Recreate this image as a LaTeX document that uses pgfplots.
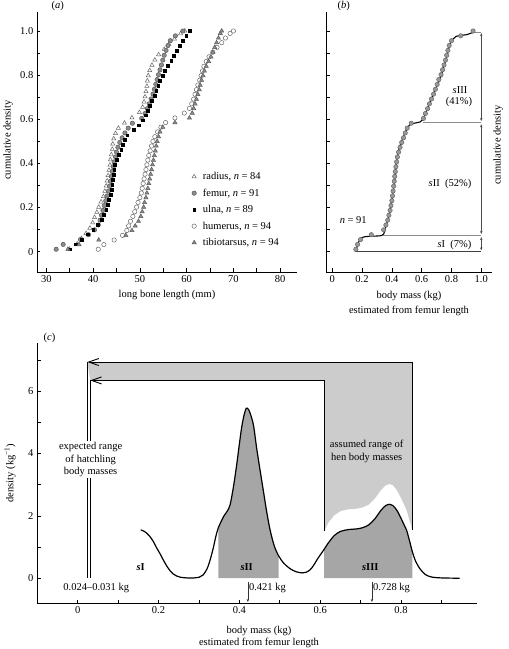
\documentclass[border=0pt]{standalone}
\usepackage{fontspec}
\setmainfont{Liberation Serif}
\usepackage{pgfplots}
\pgfplotsset{compat=1.18}
\usetikzlibrary{arrows.meta}
\pgfplotsset{
 myaxis/.style={
  scale only axis,
  axis x line*=bottom, axis y line*=left,
  x axis line style={-}, y axis line style={-},
  axis line style={line width=0.8pt},
  tick align=inside,
  major tick length=3.5pt, minor tick length=3.5pt,
  every tick/.style={black, line width=0.6pt},
  tick label style={font=\fontsize{10.5}{12}\selectfont},
  /pgf/number format/assume math mode=true,
  clip=false,
 },
 rad/.style={only marks, mark=triangle*, mark size=2.4pt, mark options={fill=white, draw=black!60, line width=0.5pt}},
 fem/.style={only marks, mark=*, mark size=2.2pt, mark options={fill=black!45, draw=black!65, line width=0.5pt}},
 uln/.style={only marks, mark=square*, mark size=1.4pt, mark options={fill=black, draw=black}},
 hum/.style={only marks, mark=*, mark size=2.2pt, mark options={fill=white, draw=black!60, line width=0.5pt}},
 tib/.style={only marks, mark=triangle*, mark size=2.4pt, mark options={fill=black!45, draw=black!65, line width=0.5pt}},
}
\begin{document}
\fontsize{10.5}{12.6}\selectfont
\begin{tikzpicture}[x=1pt,y=1pt]
\useasboundingbox (0,0) rectangle (509,649);
% ---------------- (a)
\begin{axis}[myaxis, at={(37pt,377pt)}, anchor=south west, width=260pt, height=260pt,
 xmin=28, xmax=83.6, ymin=-0.092, ymax=1.086,
 xtick={30,40,50,60,70,80}, minor xtick={35,45,55,65,75},
 ytick={0,0.2,0.4,0.6,0.8,1.0}, yticklabels={0,0.2,0.4,0.6,0.8,1.0},
 minor ytick={0.1,0.3,0.5,0.7,0.9},
 legend cell align=left,
 legend style={draw=none, fill=none, inner sep=0pt, at={(axis cs:61.1,0.37)}, anchor=north west, row sep=3.6pt, font=\fontsize{10.5}{12.6}\selectfont,
   /tikz/every odd column/.append style={column sep=4.5pt}}]
\addplot[rad] coordinates {(34.9,0.012)(36.6,0.036)(37.5,0.060)(38.5,0.083)(39.3,0.107)(39.9,0.131)(40.3,0.155)(40.8,0.179)(41.2,0.202)(41.7,0.226)(42.2,0.250)(42.5,0.274)(42.8,0.298)(43.0,0.321)(43.2,0.345)(43.4,0.369)(43.6,0.393)(43.7,0.417)(43.9,0.440)(44.1,0.464)(44.2,0.488)(44.4,0.512)(44.8,0.536)(45.4,0.560)(46.7,0.583)(48.3,0.607)(49.9,0.631)(50.6,0.655)(50.9,0.679)(51.1,0.702)(51.3,0.726)(51.5,0.750)(51.6,0.774)(51.8,0.798)(52.1,0.821)(52.6,0.845)(53.2,0.869)(54.0,0.893)(55.2,0.917)(56.2,0.940)(57.4,0.964)(58.7,0.988)(59.6,1.000)};
\addlegendentry{radius, \textit{n} = 84}
\addplot[fem] coordinates {(32.1,0.011)(33.6,0.033)(37.3,0.055)(39.0,0.077)(40.3,0.099)(41.1,0.121)(41.5,0.143)(41.8,0.165)(42.1,0.187)(42.4,0.209)(42.7,0.231)(43.0,0.253)(43.3,0.275)(43.5,0.297)(43.7,0.319)(43.9,0.341)(44.1,0.363)(44.3,0.385)(44.5,0.407)(44.8,0.429)(45.0,0.451)(45.3,0.473)(45.7,0.495)(46.2,0.516)(46.8,0.538)(47.5,0.560)(48.4,0.582)(50.4,0.604)(51.1,0.626)(51.6,0.648)(52.0,0.670)(52.4,0.692)(52.8,0.714)(53.1,0.736)(53.4,0.758)(53.7,0.780)(54.0,0.802)(54.3,0.824)(54.6,0.846)(54.9,0.868)(55.2,0.890)(55.6,0.912)(56.0,0.934)(56.5,0.956)(57.6,0.978)(59.2,1.000)};
\addlegendentry{femur, \textit{n} = 91}
\addplot[uln] coordinates {(35.0,0.011)(36.2,0.034)(37.6,0.056)(38.9,0.079)(40.0,0.101)(41.0,0.124)(41.9,0.146)(42.3,0.169)(42.8,0.191)(43.1,0.213)(43.4,0.236)(43.7,0.258)(43.9,0.281)(44.1,0.303)(44.2,0.326)(44.4,0.348)(44.5,0.371)(44.7,0.393)(45.0,0.416)(45.5,0.438)(46.0,0.461)(46.4,0.483)(46.8,0.506)(47.3,0.528)(48.6,0.551)(49.8,0.573)(50.6,0.596)(51.2,0.618)(51.7,0.640)(52.1,0.663)(52.6,0.685)(53.1,0.708)(53.5,0.730)(53.9,0.753)(54.3,0.775)(54.8,0.798)(55.3,0.820)(56.0,0.843)(56.7,0.865)(57.3,0.888)(57.9,0.910)(58.5,0.933)(59.1,0.955)(59.9,0.978)(60.6,1.000)};
\addlegendentry{ulna, \textit{n} = 89}
\addplot[hum] coordinates {(41.1,0.011)(42.3,0.032)(44.5,0.053)(46.3,0.074)(47.2,0.096)(47.6,0.117)(48.0,0.138)(48.5,0.160)(48.9,0.181)(49.3,0.202)(49.6,0.223)(50.0,0.245)(50.3,0.266)(50.5,0.287)(50.7,0.309)(50.9,0.330)(51.1,0.351)(51.3,0.372)(51.5,0.394)(51.7,0.415)(51.9,0.436)(52.2,0.457)(52.5,0.479)(52.8,0.500)(53.2,0.521)(53.8,0.543)(54.5,0.564)(55.5,0.585)(57.5,0.606)(59.5,0.628)(60.6,0.649)(61.1,0.670)(61.5,0.691)(61.8,0.713)(62.1,0.734)(62.4,0.755)(62.8,0.777)(63.1,0.798)(63.4,0.819)(63.7,0.840)(64.2,0.862)(64.8,0.883)(65.6,0.904)(66.5,0.926)(67.5,0.947)(68.3,0.968)(69.3,0.989)(70.0,1.000)};
\addlegendentry{humerus, \textit{n} = 94}
\addplot[tib] coordinates {(34.6,0.011)(37.0,0.032)(41.2,0.053)(47.0,0.074)(48.3,0.096)(49.0,0.117)(49.7,0.138)(50.2,0.160)(50.5,0.181)(50.8,0.202)(51.0,0.223)(51.3,0.245)(51.5,0.266)(51.7,0.287)(51.9,0.309)(52.1,0.330)(52.3,0.351)(52.5,0.372)(52.7,0.394)(52.9,0.415)(53.1,0.436)(53.3,0.457)(53.5,0.479)(53.7,0.500)(54.0,0.521)(54.3,0.543)(54.9,0.564)(57.5,0.585)(60.6,0.606)(61.2,0.628)(61.5,0.649)(61.8,0.670)(62.1,0.691)(62.4,0.713)(62.7,0.734)(62.9,0.755)(63.2,0.777)(63.5,0.798)(63.8,0.819)(64.2,0.840)(64.7,0.862)(65.2,0.883)(65.6,0.904)(66.0,0.926)(66.4,0.947)(66.8,0.968)(67.2,0.989)(67.5,1.000)};
\addlegendentry{tibiotarsus, \textit{n} = 94}
\end{axis}
% ---------------- (b)
\begin{axis}[myaxis, at={(326pt,377pt)}, anchor=south west, width=165.7pt, height=260pt,
 xmin=-0.042, xmax=1.07, ymin=-0.092, ymax=1.086,
 xtick={0,0.2,0.4,0.6,0.8,1}, xticklabels={0,0.2,0.4,0.6,0.8,1.0},
 ytick={0,0.1,0.2,0.3,0.4,0.5,0.6,0.7,0.8,0.9,1}, yticklabels={}]
\addplot[black!75, line width=0.6pt] coordinates {(0.16,0) (1.0,0)};
\addplot[black!45, line width=0.6pt] coordinates {(0.34,0.073) (1.0,0.073)};
\addplot[black!45, line width=0.6pt] coordinates {(0.61,0.584) (1.0,0.584)};
\addplot[black!45, line width=0.6pt] coordinates {(0.95,0.995) (1.0,0.995)};
\addplot[only marks, mark=*, mark size=2.2pt, mark options={fill=black!40, draw=black!60, line width=0.5pt}] coordinates {(0.158,0.011)(0.170,0.033)(0.190,0.055)(0.262,0.077)(0.345,0.099)(0.360,0.121)(0.372,0.143)(0.380,0.165)(0.388,0.187)(0.394,0.209)(0.400,0.231)(0.404,0.253)(0.408,0.275)(0.412,0.297)(0.416,0.319)(0.419,0.341)(0.423,0.363)(0.427,0.385)(0.432,0.407)(0.437,0.429)(0.445,0.451)(0.455,0.473)(0.466,0.495)(0.478,0.516)(0.490,0.538)(0.503,0.560)(0.530,0.582)(0.612,0.604)(0.625,0.626)(0.640,0.648)(0.652,0.670)(0.666,0.692)(0.680,0.714)(0.692,0.736)(0.704,0.758)(0.715,0.780)(0.730,0.802)(0.740,0.824)(0.750,0.846)(0.760,0.868)(0.768,0.890)(0.776,0.912)(0.785,0.934)(0.800,0.956)(0.862,0.978)(0.945,1.000)};
\addplot[black, line width=1.1pt, smooth] coordinates {(0.155,0.0)(0.165,0.02)(0.175,0.04)(0.185,0.055)(0.2,0.064)(0.22,0.068)(0.26,0.070)(0.30,0.071)(0.33,0.073)(0.345,0.08)(0.36,0.115)(0.38,0.165)(0.40,0.23)(0.41,0.28)(0.42,0.33)(0.43,0.39)(0.44,0.44)(0.45,0.47)(0.46,0.49)(0.48,0.525)(0.50,0.555)(0.52,0.575)(0.55,0.582)(0.59,0.588)(0.61,0.60)(0.625,0.625)(0.64,0.65)(0.655,0.675)(0.67,0.70)(0.69,0.733)(0.71,0.762)(0.73,0.795)(0.75,0.84)(0.77,0.89)(0.79,0.94)(0.81,0.963)(0.83,0.975)(0.86,0.98)(0.90,0.983)(0.93,0.99)(0.955,0.995)};
\draw[black!70, line width=0.5pt, {Stealth[length=3pt,width=2.5pt]}-{Stealth[length=3pt,width=2.5pt]}] (axis cs:1,0.99) -- (axis cs:1,0.592);
\draw[black!70, line width=0.5pt, {Stealth[length=3pt,width=2.5pt]}-{Stealth[length=3pt,width=2.5pt]}] (axis cs:1,0.577) -- (axis cs:1,0.08);
\draw[black!70, line width=0.5pt, {Stealth[length=3pt,width=2.5pt]}-{Stealth[length=3pt,width=2.5pt]}] (axis cs:1,0.066) -- (axis cs:1,0.006);
\node at (axis cs:0.141,0.142) {\textit{n} = 91};
\node at (axis cs:0.82,0.029) {\textit{s}I\enspace(7\%)};
\node at (axis cs:0.79,0.305) {\textit{s}II\enspace(52\%)};
\node at (axis cs:0.857,0.732) {\textit{s}III};
\node at (axis cs:0.85,0.679) {(41\%)};
\end{axis}
% ---------------- (c)
\begin{axis}[myaxis, at={(37pt,46pt)}, anchor=south west, width=440pt, height=260pt,
 xmin=-0.1007, xmax=0.988, ymin=-0.794, ymax=7.54,
 xtick={0,0.2,0.4,0.6,0.8}, xticklabels={0,0.2,0.4,0.6,0.8}, minor xtick={0.1,0.3,0.5,0.7,0.9},
 ytick={0,2,4,6}, minor ytick={1,3,5,7}]
% light grey: hen range + arrow band
\addplot[fill=black!20, draw=none] coordinates {(0.024,6.93)(0.828,6.93)(0.828,1.55)(0.821,1.85)(0.814,2.18)(0.808,2.35)(0.80,2.57)(0.79,2.82)(0.78,2.98)(0.772,3.02)(0.762,2.98)(0.75,2.82)(0.735,2.55)(0.72,2.36)(0.705,2.27)(0.69,2.23)(0.67,2.21)(0.65,2.15)(0.635,2.02)(0.62,1.78)(0.61,1.5)(0.61,6.34)(0.031,6.34)} -- cycle;
% dark grey: sII and sIII
\addplot[fill=black!35, draw=none] coordinates {(0.348,0)(0.348,1.62)(0.355,1.82)(0.362,2.00)(0.370,2.15)(0.377,2.35)(0.385,2.90)(0.393,3.60)(0.400,4.30)(0.406,4.86)(0.412,5.25)(0.417,5.45)(0.422,5.42)(0.427,5.28)(0.435,4.90)(0.443,4.15)(0.452,3.40)(0.460,2.75)(0.468,2.10)(0.476,1.55)(0.486,1.05)(0.497,0.72)(0.497,0)} -- cycle;
\addplot[fill=black!35, draw=none] coordinates {(0.61,0)(0.61,0.93)(0.62,1.13)(0.635,1.37)(0.65,1.50)(0.67,1.56)(0.69,1.58)(0.705,1.62)(0.72,1.71)(0.735,1.90)(0.75,2.17)(0.762,2.33)(0.772,2.37)(0.78,2.33)(0.79,2.17)(0.80,1.92)(0.808,1.70)(0.814,1.53)(0.821,1.20)(0.828,0.85)(0.828,0)} -- cycle;
% density curve
\addplot[black, line width=1.2pt, smooth] coordinates {(0.156,1.55)(0.165,1.50)(0.172,1.43)(0.179,1.33)(0.187,1.18)(0.195,0.98)(0.204,0.78)(0.212,0.58)(0.220,0.40)(0.228,0.25)(0.236,0.14)(0.245,0.07)(0.255,0.03)(0.27,0.01)(0.285,0.008)(0.30,0.03)(0.31,0.10)(0.32,0.30)(0.328,0.60)(0.336,1.00)(0.342,1.35)(0.348,1.62)(0.355,1.82)(0.362,2.00)(0.370,2.15)(0.377,2.35)(0.385,2.90)(0.393,3.60)(0.400,4.30)(0.406,4.86)(0.412,5.25)(0.417,5.45)(0.422,5.42)(0.427,5.28)(0.435,4.90)(0.443,4.15)(0.452,3.40)(0.460,2.75)(0.468,2.10)(0.476,1.55)(0.486,1.05)(0.497,0.72)(0.51,0.48)(0.525,0.31)(0.54,0.21)(0.555,0.17)(0.565,0.19)(0.575,0.27)(0.583,0.40)(0.595,0.65)(0.61,0.93)(0.62,1.13)(0.635,1.37)(0.65,1.50)(0.67,1.56)(0.69,1.58)(0.705,1.62)(0.72,1.71)(0.735,1.90)(0.75,2.17)(0.762,2.33)(0.772,2.37)(0.78,2.33)(0.79,2.17)(0.80,1.92)(0.808,1.70)(0.814,1.53)(0.821,1.20)(0.828,0.85)(0.836,0.55)(0.847,0.30)(0.86,0.12)(0.875,0.04)(0.90,0.01)(0.945,0.0)};
% arrows
\draw[line width=0.9pt] (axis cs:0.828,1.55) -- (axis cs:0.828,6.93);
\draw[line width=0.9pt, -{Straight Barb[length=10pt,width=7pt]}] (axis cs:0.828,6.93) -- (axis cs:0.024,6.93);
\draw[line width=0.9pt] (axis cs:0.024,6.93) -- (axis cs:0.024,0);
\draw[line width=0.9pt] (axis cs:0.61,1.5) -- (axis cs:0.61,6.34);
\draw[line width=0.9pt, -{Straight Barb[length=10pt,width=7pt]}] (axis cs:0.61,6.34) -- (axis cs:0.031,6.34);
\draw[line width=0.9pt] (axis cs:0.031,6.34) -- (axis cs:0.031,0);
\node[fill=white, align=center, inner sep=1pt, font=\fontsize{10.5}{12.8}\selectfont] at (axis cs:0.032,3.8) {expected range\\of hatchling\\body masses};
\node[align=center, font=\fontsize{10.5}{12.8}\selectfont] at (axis cs:0.715,4.07) {assumed range of\\hen body masses};
\node at (axis cs:0.156,0.37) {\textbf{\textit{s}I}};
\node at (axis cs:0.418,0.37) {\textbf{\textit{s}II}};
\node at (axis cs:0.724,0.37) {\textbf{\textit{s}III}};
\node at (axis cs:0.046,-0.32) {0.024–0.031 kg};
\draw[black!80, line width=0.5pt, -{Stealth[length=3pt,width=2.5pt]}] (axis cs:0.421,-0.12) -- (axis cs:0.421,-0.76);
\node[anchor=west, inner sep=1pt] at (axis cs:0.421,-0.32) {0.421 kg};
\draw[black!80, line width=0.5pt, -{Stealth[length=3pt,width=2.5pt]}] (axis cs:0.728,-0.12) -- (axis cs:0.728,-0.76);
\node[anchor=west, inner sep=1pt] at (axis cs:0.728,-0.32) {0.728 kg};
\end{axis}
% ---------------- labels
\node[anchor=west] at (48,643) {(\textit{a})};
\node[anchor=west] at (334,643) {(\textit{b})};
\node[anchor=west] at (40,311) {(\textit{c})};
\node at (167,354) {long bone length (mm)};
\node[rotate=90] at (8,509) {cumulative density};
\node at (409,353) {body mass (kg)};
\node at (409,338) {estimated from femur length};
\node[rotate=90] at (498,504) {cumulative density};
\node[rotate=90] at (10,176) {density (kg\textsuperscript{−1})};
\node at (259,18) {body mass (kg)};
\node at (259,6) {estimated from femur length};
\end{tikzpicture}
\end{document}
